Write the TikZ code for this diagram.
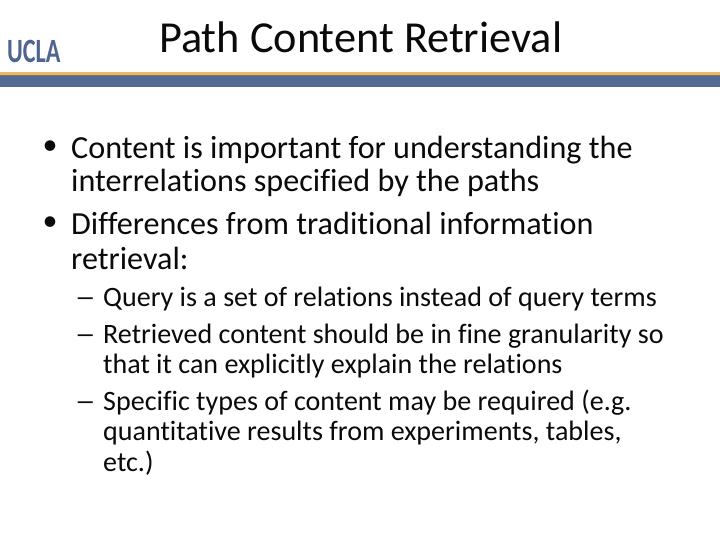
\documentclass[tikz,border=0pt]{standalone}
\usepackage{fontspec}
\setmainfont[Ligatures=NoCommon]{Carlito}
\definecolor{barblue}{HTML}{526A96}
\definecolor{bargold}{HTML}{E8B968}
\definecolor{barmid}{HTML}{7D7460}
\definecolor{logoblue}{HTML}{4F6491}
\definecolor{txt}{HTML}{0A0A0A}
\tikzset{
  body/.style={anchor=base west,inner sep=0pt,text=txt,font=\fontsize{32.15pt}{32pt}\selectfont},
  sub/.style={anchor=base west,inner sep=0pt,text=txt,font=\fontsize{28.05pt}{28pt}\selectfont},
  bul/.style={anchor=base west,inner sep=0pt,text=txt,font=\fontsize{30pt}{30pt}\selectfont},
  dashmark/.style={anchor=base west,inner sep=0pt,text=txt,xscale=1.5,font=\fontsize{28pt}{28pt}\selectfont}
}
\begin{document}
\begin{tikzpicture}[x=1pt,y=-1pt]
\useasboundingbox (0,0) rectangle (720,540);
\fill[white] (0,0) rectangle (720,540);
\fill[bargold] (0,72.5) rectangle (720,75);
\fill[barmid] (0,75) rectangle (720,76);
\fill[barblue] (0,76) rectangle (720,87);
\node[anchor=base west,inner sep=0pt,text=logoblue,xscale=0.71,font=\fontsize{34pt}{34pt}\selectfont\bfseries] (logo) at (7,63) {UCLA};
\node[anchor=base west,inner sep=0pt,text=txt,font=\fontsize{44.3pt}{44pt}\selectfont] (title) at (159,53) {Path Content Retrieval};
\node[bul] (b1) at (42.5,154.7) {•};
\node[body] (l1) at (71,158.5) {Content is important for understanding the};
\node[body] (l2) at (71,192) {interrelations specified by the paths};
\node[bul] (b2) at (42.5,230.7) {•};
\node[body] (l3) at (71,234) {Differences from traditional information};
\node[body] (l4) at (71,269) {retrieval:};
\node[dashmark] (d1) at (74.5,306.5) {–};
\node[sub] (s1) at (103,306) {Query is a set of relations instead of query terms};
\node[dashmark] (d2) at (74.5,343.5) {–};
\node[sub] (s2) at (103,343) {Retrieved content should be in fine granularity so};
\node[sub] (s3) at (103,373) {that it can explicitly explain the relations};
\node[dashmark] (d3) at (74.5,410.5) {–};
\node[sub] (s4) at (103,410) {Specific types of content may be required (e.g.};
\node[sub] (s5) at (103,440) {quantitative results from experiments, tables,};
\node[sub] (s6) at (103,471) {etc.)};
\end{tikzpicture}
\end{document}
